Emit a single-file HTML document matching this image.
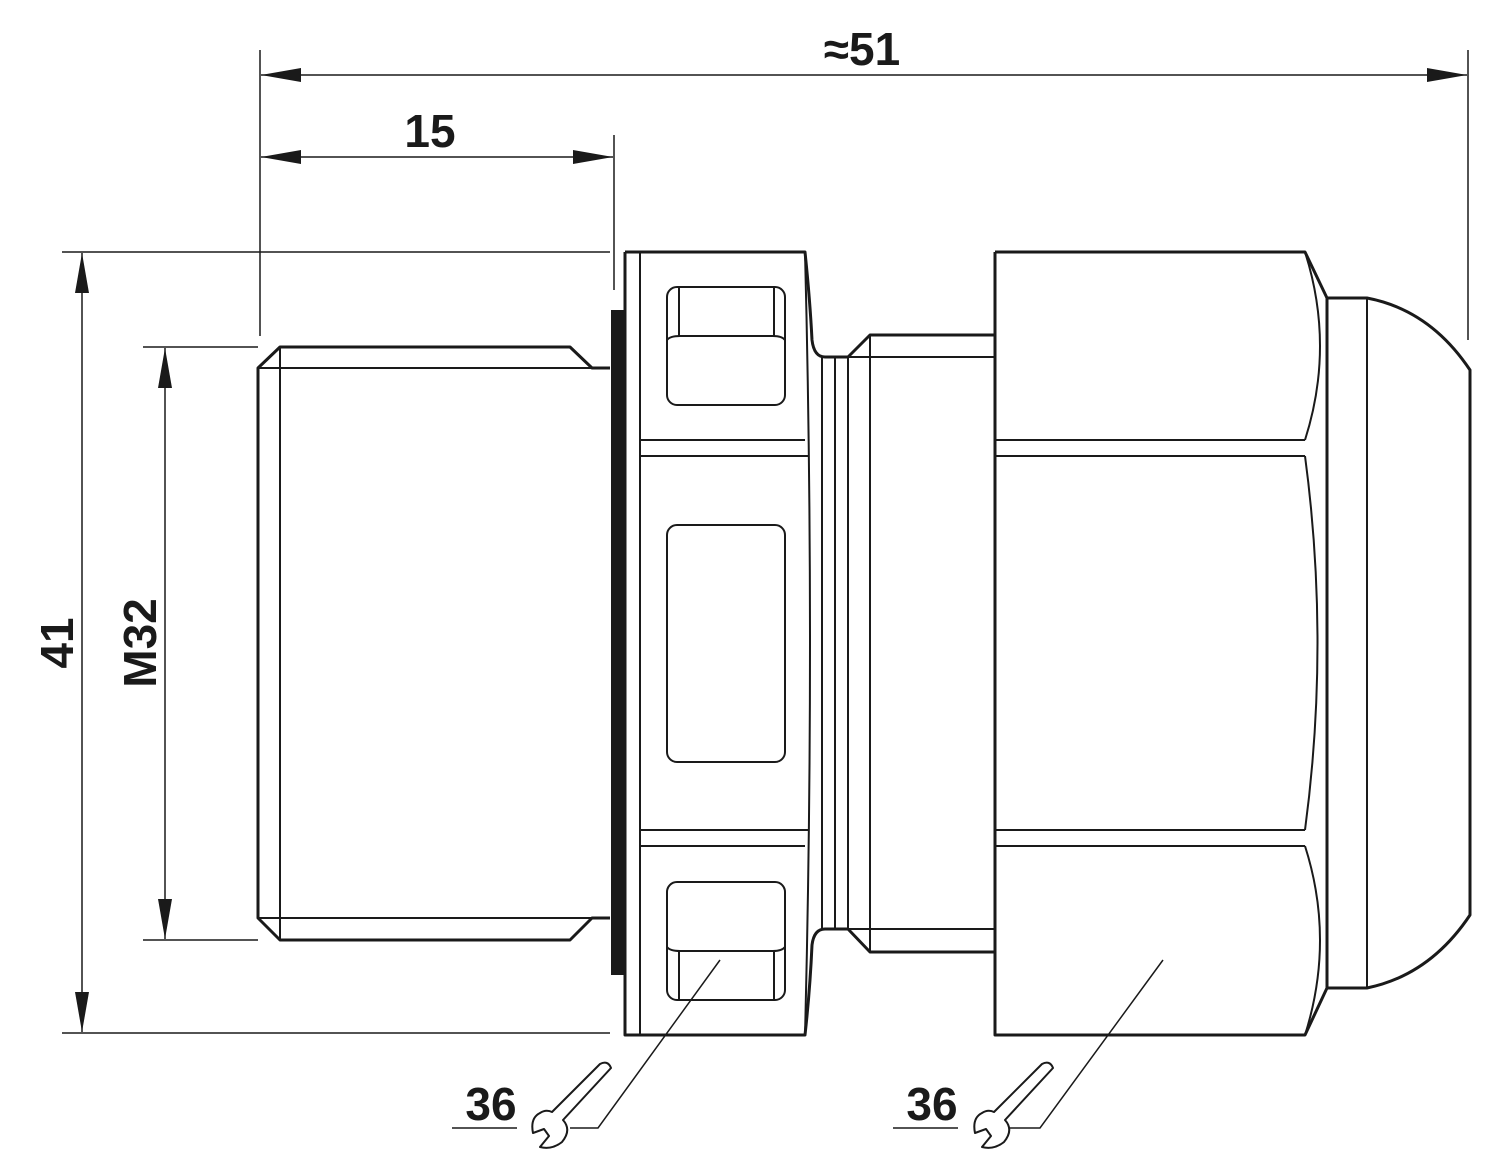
<!DOCTYPE html>
<html><head><meta charset="utf-8"><style>
html,body{margin:0;padding:0;background:#fff;}
svg{display:block;}
text{font-family:"Liberation Sans",sans-serif;font-weight:bold;fill:#1a1a1a;}
</style></head><body>
<svg width="1500" height="1172" viewBox="0 0 1500 1172" xmlns="http://www.w3.org/2000/svg">
<defs>
<marker id="a" viewBox="0 0 40 14" refX="40" refY="7" markerWidth="40" markerHeight="14" markerUnits="userSpaceOnUse" orient="auto-start-reverse"><path d="M0,0 L40,7 L0,14 Z" fill="#1a1a1a"/></marker>
</defs>
<g stroke="#1a1a1a" fill="none" stroke-width="1.5">
<line x1="260" y1="50" x2="260" y2="336"/>
<line x1="1468" y1="50" x2="1468" y2="340"/>
<line x1="614" y1="135" x2="614" y2="290"/>
<line x1="62" y1="252" x2="610" y2="252"/>
<line x1="62" y1="1033" x2="610" y2="1033"/>
<line x1="143" y1="347" x2="258" y2="347"/>
<line x1="143" y1="940" x2="258" y2="940"/>
<line x1="261" y1="75" x2="1467" y2="75" marker-start="url(#a)" marker-end="url(#a)"/>
<line x1="261" y1="157" x2="613" y2="157" marker-start="url(#a)" marker-end="url(#a)"/>
<line x1="82" y1="253" x2="82" y2="1032" marker-start="url(#a)" marker-end="url(#a)"/>
<line x1="165" y1="348" x2="165" y2="939" marker-start="url(#a)" marker-end="url(#a)"/>
</g>
<text x="862" y="65" font-size="46" text-anchor="middle">≈51</text>
<text x="430" y="147" font-size="46" text-anchor="middle">15</text>
<text transform="translate(73,643) rotate(-90)" font-size="46" text-anchor="middle">41</text>
<text transform="translate(156,643) rotate(-90)" font-size="46" text-anchor="middle">M32</text>

<g stroke="#1a1a1a" fill="none" stroke-width="3" stroke-linejoin="round">
<path d="M610,368 L592,368 L570,347 L280,347 L258,368 L258,918 L280,940 L570,940 L592,918 L610,918"/>
<g stroke-width="2"><line x1="280" y1="347" x2="280" y2="940"/><line x1="258" y1="368" x2="592" y2="368"/><line x1="258" y1="918" x2="592" y2="918"/></g>
<rect x="611" y="310" width="13" height="665" fill="#1a1a1a" stroke="none"/>
<path d="M625,252 L805,252 Q810,300 812,340 Q814,357 825,357 L848,357 L870,335 L995,335"/>
<path d="M625,252 L625,1035 L805,1035 Q810,990 812,945 Q814,929 825,929 L848,929 L870,952 L995,952"/>
<g stroke-width="2">
<line x1="640" y1="252" x2="640" y2="1035"/>
<line x1="640" y1="440" x2="805" y2="440"/><line x1="640" y1="456" x2="808" y2="456"/>
<line x1="640" y1="830" x2="808" y2="830"/><line x1="640" y1="846" x2="805" y2="846"/>
<path d="M805,252 Q815,643 805,1035"/>
<line x1="822" y1="357" x2="822" y2="929"/>
<line x1="835" y1="357" x2="835" y2="929"/>
<line x1="848" y1="357" x2="848" y2="929"/>
<line x1="870" y1="335" x2="870" y2="952"/>
<line x1="848" y1="357" x2="995" y2="357"/><line x1="848" y1="929" x2="995" y2="929"/>
<rect x="667" y="287" width="118" height="118" rx="10"/>
<path d="M667,340 Q670,336 680,336 L773,336 Q782,336 785,340"/>
<line x1="679" y1="287" x2="679" y2="336"/><line x1="774" y1="287" x2="774" y2="336"/>
<rect x="667" y="525" width="118" height="237" rx="10"/>
<rect x="667" y="882" width="118" height="118" rx="10"/>
<path d="M667,947 Q670,951 680,951 L773,951 Q782,951 785,947"/>
<line x1="679" y1="951" x2="679" y2="1000"/><line x1="774" y1="951" x2="774" y2="1000"/>
</g>
<path d="M995,252 L995,1035 L1305,1035 L1327,988"/>
<path d="M995,252 L1305,252 L1327,298"/>
<g stroke-width="2">
<line x1="995" y1="440" x2="1305" y2="440"/><line x1="995" y1="456" x2="1305" y2="456"/>
<line x1="995" y1="830" x2="1305" y2="830"/><line x1="995" y1="846" x2="1305" y2="846"/>
<path d="M1305,252 Q1335,346 1305,440"/>
<path d="M1305,456 Q1330,643 1305,830"/>
<path d="M1305,846 Q1335,940 1305,1035"/>
</g>
<path d="M1327,298 L1367,298 Q1430,310 1470,370 L1470,915 Q1430,975 1367,988 L1327,988 Z"/>
<line x1="1367" y1="298" x2="1367" y2="988" stroke-width="2"/>
</g>
<g stroke="#1a1a1a" fill="none" stroke-width="1.5">
<path d="M720,960 L598,1128 L570,1128"/>
<line x1="452" y1="1128" x2="517" y2="1128"/>
<path d="M1163,960 L1040,1128 L1010,1128"/>
<line x1="893" y1="1128" x2="958" y2="1128"/>
</g>
<text x="491" y="1120" font-size="46" text-anchor="middle">36</text>
<text x="932" y="1120" font-size="46" text-anchor="middle">36</text>
<g id="w" stroke="#1a1a1a" fill="none" stroke-width="2" stroke-linejoin="round">
<path d="M552,1112 L600,1064 Q608,1060 611,1068 L563,1120 Q572,1130 562,1142 Q552,1150 540,1147 L549,1136 L544,1129 L533,1133 Q530,1118 540,1113 Q546,1109 552,1112 Z"/>
</g>
<use href="#w" transform="translate(442,0)"/>
</svg>
</body></html>
